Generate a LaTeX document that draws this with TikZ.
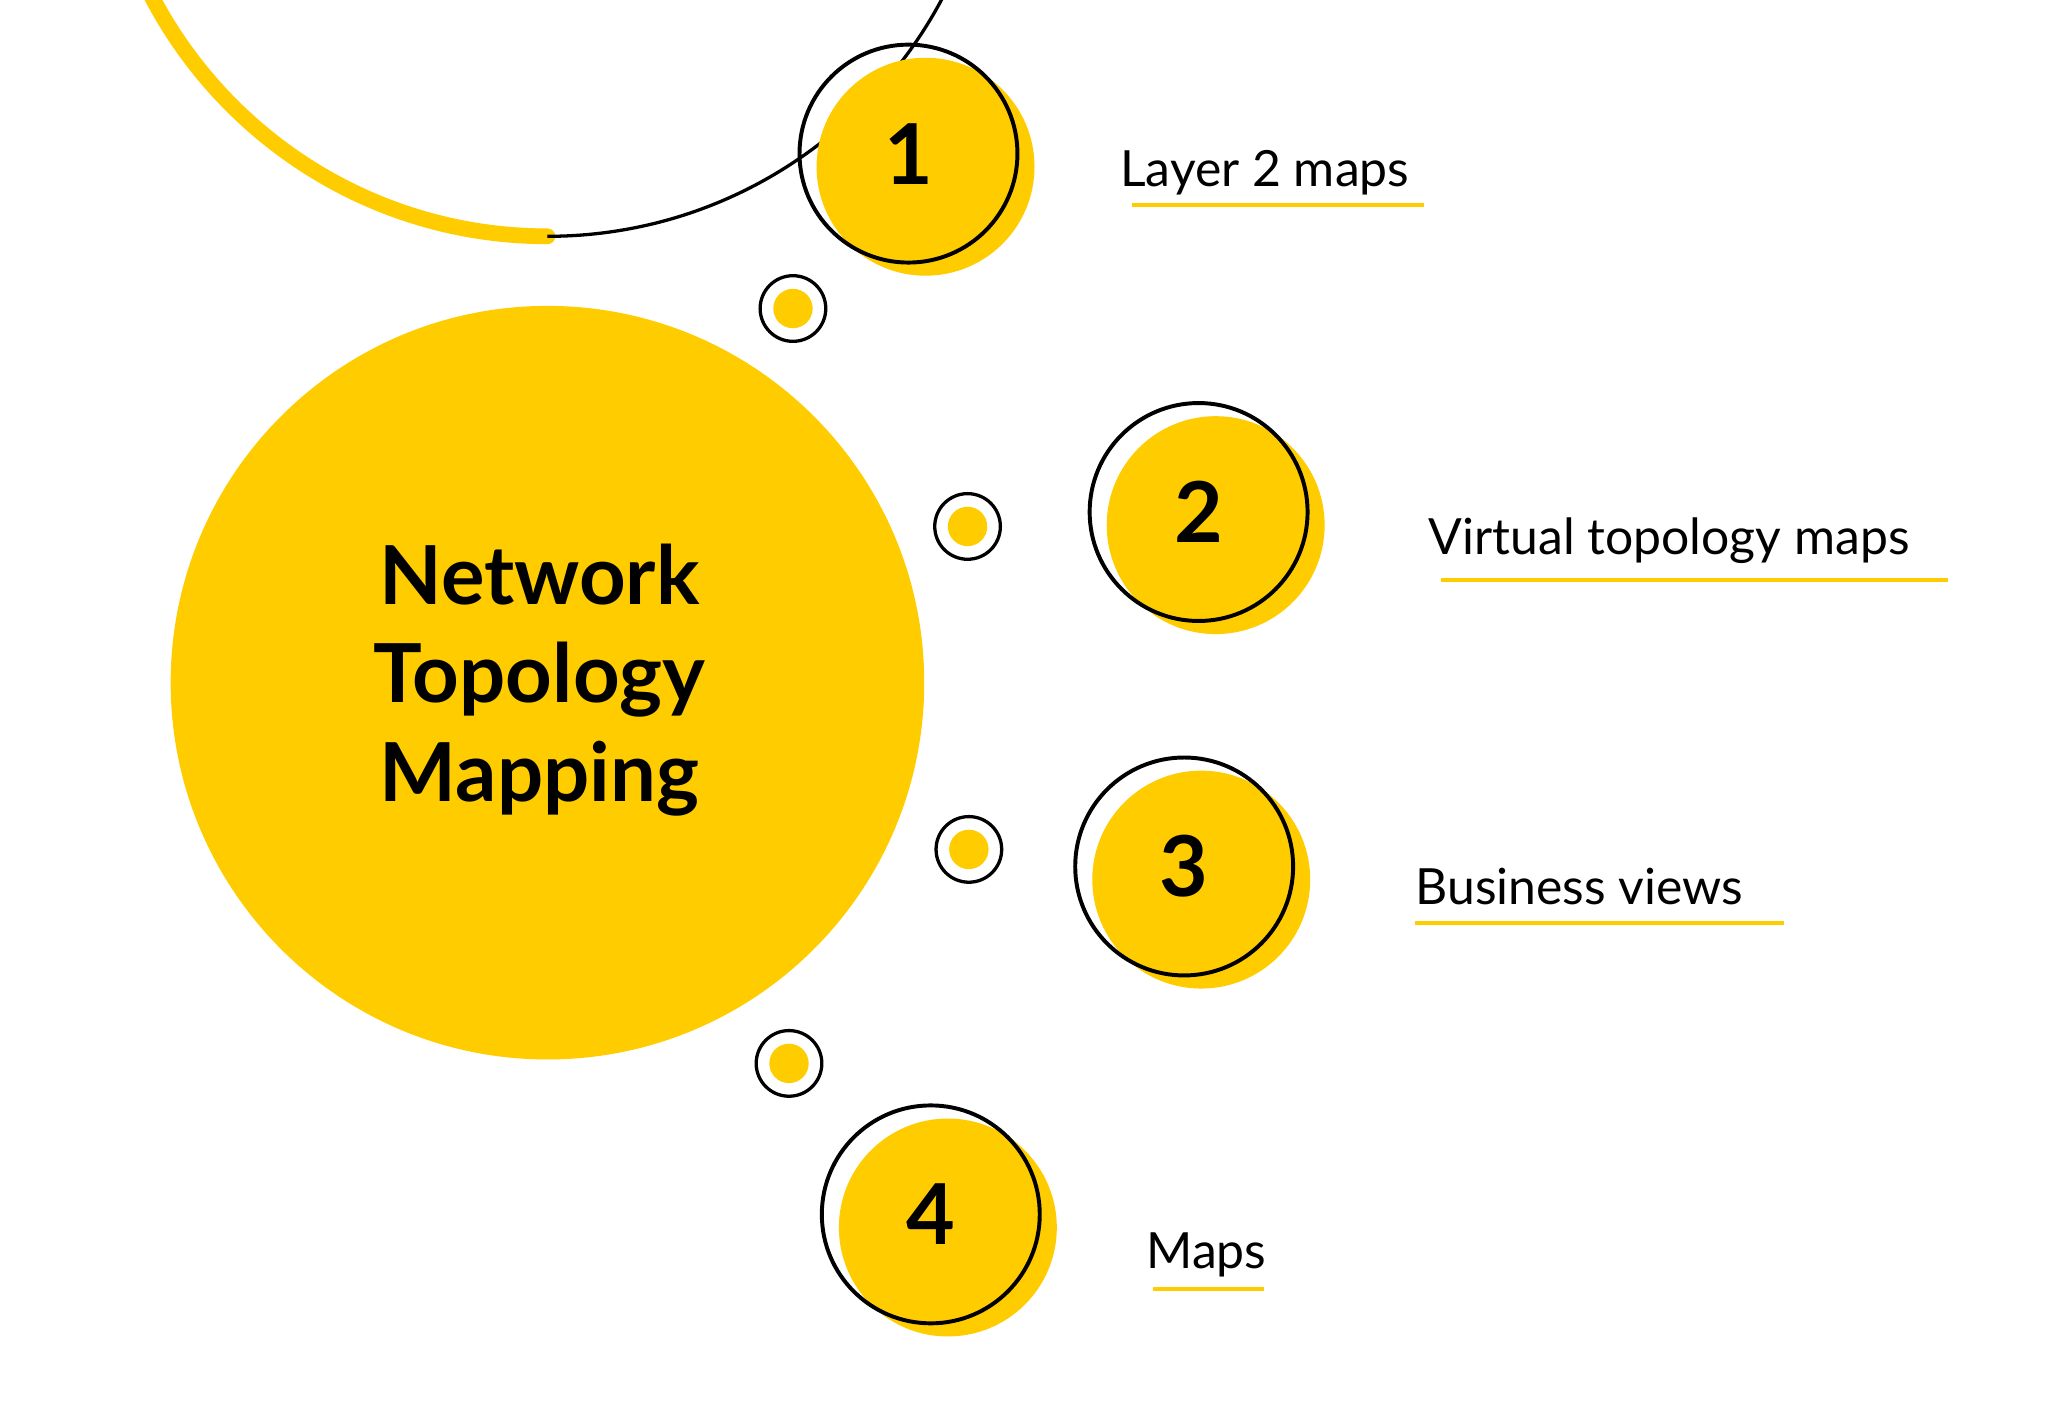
\documentclass[tikz,border=0pt]{standalone}
\usepackage{fontspec}
\setmainfont{Lato}
\definecolor{ylw}{HTML}{FFCC00}
\begin{document}
\begin{tikzpicture}[x=1pt,y=-1pt,
  dot/.style={circle,draw=black,line width=2.5pt,fill=white,minimum size=50pt,inner sep=0pt},
  num/.style={circle,draw=black,line width=3pt,minimum size=166pt,inner sep=0pt,font=\fontsize{64}{64}\selectfont\bfseries},
  shadow/.style={circle,fill=ylw,minimum size=166pt,inner sep=0pt},
  lbl/.style={font=\fontsize{38}{40}\selectfont,inner sep=0pt,anchor=base west},
  ul/.style={draw=ylw,line width=3pt}]
\useasboundingbox (0,0) rectangle (1560,1077);
\fill[white] (0,0) rectangle (1560,1077);
\node[circle,fill=ylw,minimum size=574pt,inner sep=0pt] (core) at (417,520) {};
\node[font=\fontsize{62}{75}\selectfont\bfseries,align=center] (title) at (411,518) {Network\\Topology\\Mapping};
\draw[ylw,line width=12pt,line cap=round] (417,180) arc[start angle=90,end angle=270,radius=340];
\draw[black,line width=2.5pt] (417,180) arc[start angle=90,end angle=-90,radius=340];
\foreach \n/\x/\y in {a/604/235,b/737/401,c/738/647,d/601/810}{
  \node[dot] (d\n) at (\x,\y) {};
  \fill[ylw] (d\n) circle (15);
}
\foreach \n/\x/\y/\t in {1/692/117/1,2/913/390/2,3/902/660/3,4/709/925/4}{
  \node[shadow] (s\n) at (\x+13,\y+10) {};
  \node[num] (n\n) at (\x,\y) {\t};
}
\node[lbl] (l1) at (853,142) {Layer 2 maps};
\node[lbl] (l2) at (1088,422) {Virtual topology maps};
\node[lbl] (l3) at (1078,689) {Business views};
\node[lbl] (l4) at (873,966) {Maps};
\draw[ul] (862,156) -- (1085,156);
\draw[ul] (1098,442) -- (1484,442);
\draw[ul] (1078,703) -- (1359,703);
\draw[ul] (878,982) -- (963,982);
\end{tikzpicture}
\end{document}
